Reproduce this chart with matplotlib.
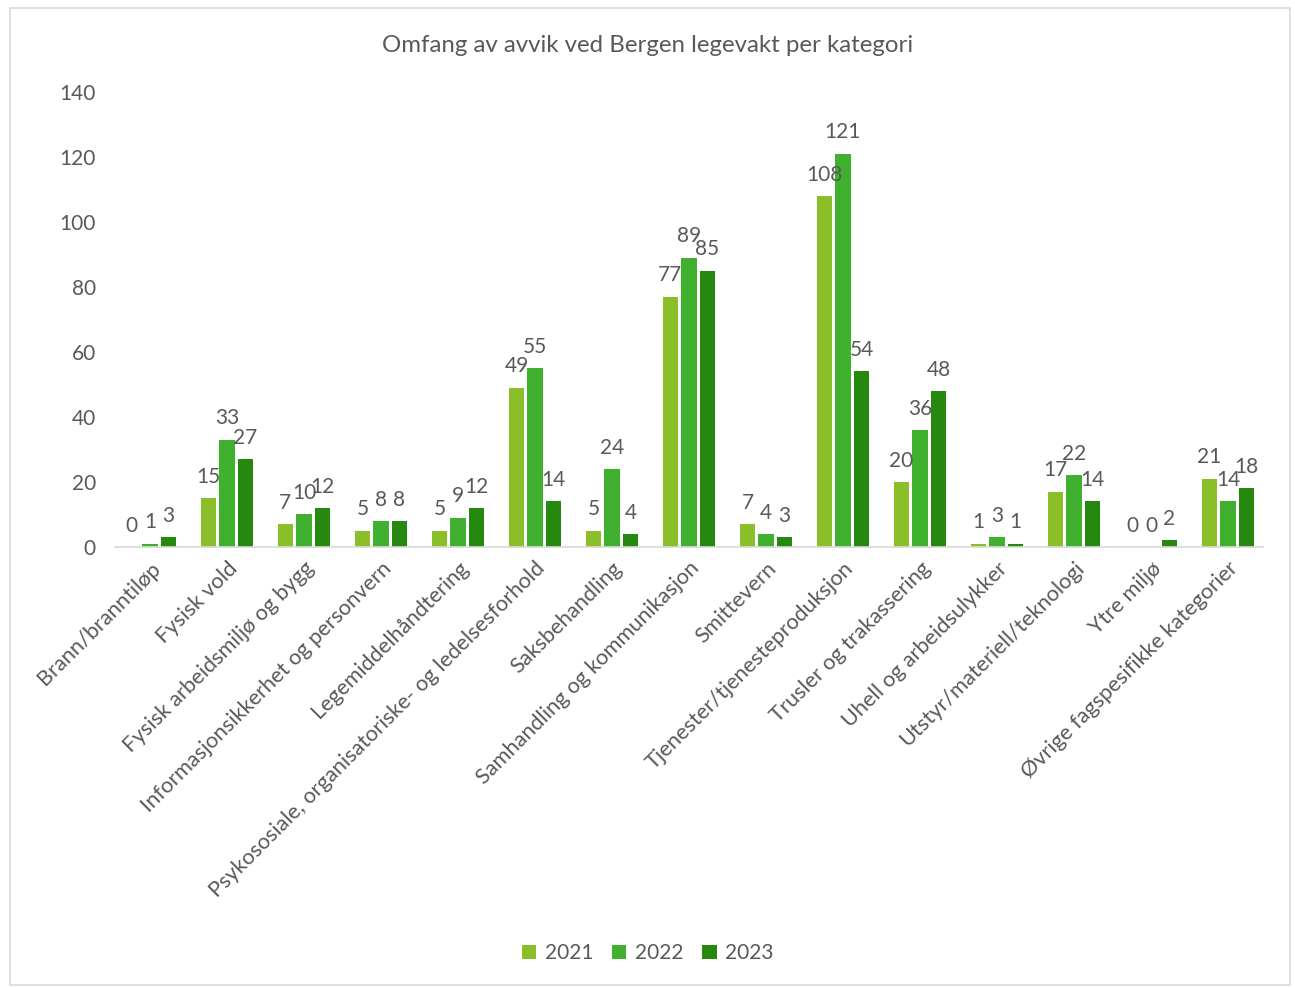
import numpy as np
import matplotlib
matplotlib.use("Agg")
import matplotlib.pyplot as plt
from matplotlib.patches import Rectangle

categories = [
    "Brann/branntiløp",
    "Fysisk vold",
    "Fysisk arbeidsmiljø og bygg",
    "Informasjonsikkerhet og personvern",
    "Legemiddelhåndtering",
    "Psykososiale, organisatoriske- og ledelsesforhold",
    "Saksbehandling",
    "Samhandling og kommunikasjon",
    "Smittevern",
    "Tjenester/tjenesteproduksjon",
    "Trusler og trakassering",
    "Uhell og arbeidsulykker",
    "Utstyr/materiell/teknologi",
    "Ytre miljø",
    "Øvrige fagspesifikke kategorier",
]
years = ["2021", "2022", "2023"]
values_2021 = [0, 15, 7, 5, 5, 49, 5, 77, 7, 108, 20, 1, 17, 0, 21]
values_2022 = [1, 33, 10, 8, 9, 55, 24, 89, 4, 121, 36, 3, 22, 0, 14]
values_2023 = [3, 27, 12, 8, 12, 14, 4, 85, 3, 54, 48, 1, 14, 2, 18]
colors = ["#8BBF2A", "#40B02F", "#25880F"]

text_color = "#595959"
plt.rcParams["font.family"] = ["Lato", "DejaVu Sans"]

fig = plt.figure(figsize=(12.95, 9.88), dpi=100)
ax = fig.add_axes([0.089, 0.4464, 0.886, 0.4605])

x = np.arange(len(categories))
w = 0.2
gap = 0.04
series = [values_2021, values_2022, values_2023]
for i, (vals, col, yr) in enumerate(zip(series, colors, years)):
    pos = x + (i - 1) * (w + gap)
    ax.bar(pos, vals, width=w, color=col, label=yr, zorder=2)
    for p, v in zip(pos, vals):
        ax.text(p, v + 3.5, str(v), ha="center", va="bottom",
                fontsize=15, color=text_color)

ax.set_ylim(0, 140)
ax.set_yticks(range(0, 141, 20))
ax.set_xlim(-0.45, len(categories) - 0.55)
ax.set_xticks(x)
ax.set_xticklabels(categories, rotation=45, ha="right", rotation_mode="anchor",
                   fontsize=15.7, color=text_color)
ax.tick_params(axis="y", length=0, labelsize=15, labelcolor=text_color, pad=14)
ax.tick_params(axis="x", length=0, pad=8)
for s in ["top", "right", "left"]:
    ax.spines[s].set_visible(False)
ax.spines["bottom"].set_color("#D9D9D9")
ax.spines["bottom"].set_linewidth(1.2)

fig.text(0.5, 0.954, "Omfang av avvik ved Bergen legevakt per kategori",
         ha="center", va="center", fontsize=17.3, color=text_color)

fig.legend(loc="center", bbox_to_anchor=(0.5, 0.035), ncol=3, frameon=False,
           fontsize=15, labelcolor=text_color, handlelength=0.7,
           handleheight=0.7, columnspacing=0.9, handletextpad=0.4)

fig.patches.append(Rectangle((10 / 1295, 3 / 988), 1280 / 1295, 977 / 988,
                             transform=fig.transFigure, fill=False,
                             edgecolor="#D9D9D9", linewidth=1.2))

fig.savefig("out.png", dpi=100, facecolor="white")
